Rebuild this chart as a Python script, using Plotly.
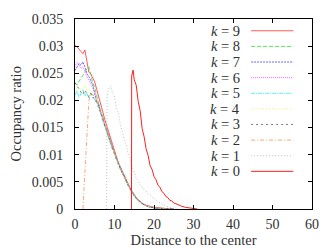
import plotly.graph_objects as go

# ---------------- data ----------------
X_BUNDLE = [0, 0.5, 1, 1.5, 2, 2.5, 3, 3.5, 4, 4.5,
            5, 5.5, 6, 6.5, 7, 7.5, 8, 8.5, 9, 9.5, 10, 10.5, 11, 11.5, 12, 12.5,
            13, 13.5, 14, 14.5, 15, 15.5, 16, 16.5, 17, 17.5, 18, 18.5, 19, 19.5, 20,
            21, 22, 23, 24, 25]

Y_K9 = [0.0302, 0.0299, 0.0295, 0.0290, 0.0286, 0.0293, 0.0271, 0.0252, 0.0249, 0.0241,
        0.0234, 0.0220, 0.0208, 0.0194, 0.0180, 0.0166, 0.0154, 0.0140, 0.0128, 0.0116, 0.0105, 0.0096,
        0.0085, 0.0077, 0.0068, 0.0061, 0.0052, 0.0046, 0.0038, 0.0032, 0.0026, 0.0021, 0.0017, 0.0013,
        0.0011, 0.0008, 0.0007, 0.0005, 0.0004, 0.0003, 0.0003, 0.0002, 0.0001, 0.00005, 0.00002, 0]
Y_K8 = [0.0232, 0.0228, 0.0235, 0.0240, 0.0246, 0.0252, 0.0258, 0.0262, 0.0248, 0.0232,
        0.0224, 0.0208, 0.0196, 0.0178, 0.0172, 0.0153, 0.0149, 0.0131, 0.0127, 0.0110, 0.0106, 0.0090,
        0.0087, 0.0072, 0.0069, 0.0057, 0.0053, 0.0042, 0.0038, 0.0030, 0.0026, 0.0019, 0.0017, 0.0012,
        0.0011, 0.0007, 0.0007, 0.0004, 0.0004, 0.0003, 0.0002, 0.0002, 0.0001, 0.00006, 0.00002, 0]
Y_K7 = [0.0255, 0.0262, 0.0268, 0.0265, 0.0271, 0.0262, 0.0250, 0.0244, 0.0236, 0.0229,
        0.0212, 0.0198, 0.0194, 0.0176, 0.0170, 0.0155, 0.0143, 0.0138, 0.0121, 0.0116, 0.0100, 0.0096,
        0.0081, 0.0078, 0.0064, 0.0061, 0.0049, 0.0046, 0.0035, 0.0032, 0.0024, 0.0021, 0.0015, 0.0014,
        0.0009, 0.0009, 0.0006, 0.0005, 0.0003, 0.0003, 0.0002, 0.0001, 0.0001, 0.00004, 0.00001, 0]
Y_K6 = [0.0262, 0.0270, 0.0266, 0.0259, 0.0262, 0.0251, 0.0244, 0.0238, 0.0231, 0.0222,
        0.0215, 0.0199, 0.0187, 0.0183, 0.0165, 0.0160, 0.0143, 0.0137, 0.0121, 0.0115, 0.0101, 0.0095,
        0.0082, 0.0076, 0.0065, 0.0060, 0.0050, 0.0045, 0.0036, 0.0032, 0.0024, 0.0021, 0.0015, 0.0013,
        0.0010, 0.0008, 0.0006, 0.0005, 0.0004, 0.0003, 0.0002, 0.0002, 0.0001, 0.00005, 0.00002, 0]
Y_K5 = [0.0210, 0.0218, 0.0205, 0.0212, 0.0220, 0.0208, 0.0214, 0.0204, 0.0213, 0.0207,
        0.0201, 0.0196, 0.0186, 0.0177, 0.0163, 0.0155, 0.0142, 0.0133, 0.0120, 0.0111, 0.0100, 0.0091,
        0.0082, 0.0073, 0.0066, 0.0058, 0.0050, 0.0043, 0.0037, 0.0030, 0.0025, 0.0020, 0.0016, 0.0012,
        0.0010, 0.0008, 0.0006, 0.0005, 0.0004, 0.0003, 0.0002, 0.0001, 0.0001, 0.00005, 0.00002, 0]
Y_K4 = [0.0215, 0.0222, 0.0226, 0.0218, 0.0224, 0.0229, 0.0217, 0.0222, 0.0214, 0.0216,
        0.0206, 0.0203, 0.0189, 0.0184, 0.0166, 0.0159, 0.0144, 0.0138, 0.0122, 0.0116, 0.0101, 0.0095,
        0.0083, 0.0077, 0.0066, 0.0060, 0.0050, 0.0045, 0.0036, 0.0032, 0.0024, 0.0021, 0.0015, 0.0014,
        0.0010, 0.0008, 0.0006, 0.0005, 0.0004, 0.0003, 0.0003, 0.0001, 0.0001, 0.00005, 0.00002, 0]
Y_K3 = [0.0233, 0.0226, 0.0220, 0.0215, 0.0211, 0.0219, 0.0212, 0.0207, 0.0213, 0.0205,
        0.0204, 0.0195, 0.0190, 0.0178, 0.0169, 0.0154, 0.0147, 0.0132, 0.0125, 0.0111, 0.0104, 0.0091,
        0.0085, 0.0073, 0.0068, 0.0058, 0.0052, 0.0043, 0.0038, 0.0030, 0.0026, 0.0019, 0.0017, 0.0012,
        0.0011, 0.0007, 0.0007, 0.0004, 0.0004, 0.0003, 0.0002, 0.0002, 0.0001, 0.00005, 0.00002, 0]

X_K2 = [2.0, 2.5, 3.0, 3.5, 4.0, 4.5,
        5, 5.5, 6, 6.5, 7, 7.5, 8, 8.5, 9, 9.5, 10, 10.5, 11, 11.5, 12, 12.5,
        13, 13.5, 14, 14.5, 15, 15.5, 16, 16.5, 17, 17.5, 18, 18.5, 19, 19.5, 20,
        21, 22, 23, 24, 25]
Y_K2 = [0, 0.0066, 0.0132, 0.0198, 0.0214, 0.0211,
        0.0207, 0.0200, 0.0193, 0.0179, 0.0170, 0.0156, 0.0147, 0.0134, 0.0126, 0.0112, 0.0104, 0.0092,
        0.0085, 0.0074, 0.0068, 0.0059, 0.0052, 0.0044, 0.0038, 0.0031, 0.0025, 0.0020, 0.0016, 0.0013,
        0.0010, 0.0008, 0.0006, 0.0005, 0.0004, 0.0003, 0.0003, 0.0002, 0.0001, 0.00005, 0.00002, 0]

X_K1 = [8.0, 8.1, 8.5, 9, 9.5, 10, 10.5, 11, 11.5, 12, 12.5, 13, 13.5, 14, 14.5, 15, 15.5,
        16, 16.5, 17, 17.5, 18, 18.5, 19, 19.5, 20, 20.5, 21, 22, 23, 24, 25, 26]
Y_K1 = [0, 0.0208, 0.0221, 0.0227, 0.0214, 0.0208, 0.0186, 0.0176, 0.0154, 0.0143, 0.0125, 0.0118,
        0.0099, 0.0092, 0.0076, 0.0068, 0.0056, 0.0052, 0.0044, 0.0041, 0.0035, 0.0033, 0.0027, 0.0026,
        0.0021, 0.0020, 0.0016, 0.0014, 0.0009, 0.0005, 0.0003, 0.0001, 0]

X_K0 = [14.3, 14.35, 14.7, 15, 15.5, 16, 16.5, 17, 17.5, 18, 18.5, 19, 19.5, 20, 20.5, 21, 21.5,
        22, 22.5, 23, 23.5, 24, 24.5, 25, 25.5, 26, 27, 28, 29, 30, 31]
Y_K0 = [0, 0.0245, 0.0256, 0.0238, 0.0228, 0.0198, 0.0181, 0.0148, 0.0133, 0.0111, 0.0099, 0.0080,
        0.0073, 0.0060, 0.0054, 0.0044, 0.0040, 0.0032, 0.0029, 0.0023, 0.0021, 0.0016, 0.0015, 0.0011,
        0.0010, 0.0008, 0.0005, 0.0003, 0.0002, 0.0001, 0]

X_TICKS = [0, 10, 20, 30, 40, 50, 60]
Y_TICKS = [0, 0.005, 0.01, 0.015, 0.02, 0.025, 0.03, 0.035]
Y_TICK_TEXT = ["0", "0.005", "0.01", "0.015", "0.02", "0.025", "0.03", "0.035"]

LABELS = ["k = 9", "k = 8", "k = 7", "k = 6", "k = 5", "k = 4", "k = 3", "k = 2", "k = 1", "k = 0"]
SERIES_X = [X_BUNDLE, X_BUNDLE, X_BUNDLE, X_BUNDLE, X_BUNDLE, X_BUNDLE, X_BUNDLE, X_K2, X_K1, X_K0]
SERIES_Y = [Y_K9, Y_K8, Y_K7, Y_K6, Y_K5, Y_K4, Y_K3, Y_K2, Y_K1, Y_K0]
COLORS = ["#ff3030", "#30e030", "#4040ff", "#ff40ff", "#30e8e8", "#f0f030", "#404040",
          "#ff9050", "#b0b0b0", "#ff2020"]
DASHES = ["solid", "4px,2px", "2px,1px", "1px,1px", "4px,1px,1px,1px", "1px,2px",
          "2px,3px", "4px,2px,1px,2px", "1px,2px", "solid"]
WIDTHS = [0.8, 0.8, 0.8, 0.8, 0.8, 0.8, 0.7, 0.8, 0.8, 1.0]

FONT = "Liberation Serif"
TXT = "#303030"

fig = go.Figure()
for i, (xs, ys) in enumerate(zip(SERIES_X, SERIES_Y)):
    fig.add_trace(go.Scatter(x=xs, y=ys, mode="lines", name=LABELS[i],
                             line=dict(color=COLORS[i], width=WIDTHS[i], dash=DASHES[i]),
                             showlegend=False))

# manual legend: text on the left, line sample on the right (gnuplot style)
shapes = []
annotations = []
top_y = 0.938
step = 0.0822
for i, lab in enumerate(LABELS):
    yy = top_y - i * step
    num = lab.split("=")[1].strip()
    annotations.append(dict(xref="paper", yref="paper", x=0.703, y=yy,
                            text="<i>k</i> = " + num, showarrow=False,
                            xanchor="right", yanchor="middle",
                            font=dict(family=FONT, size=14.5, color=TXT)))
    shapes.append(dict(type="line", xref="paper", yref="paper",
                       x0=0.743, x1=0.921, y0=yy, y1=yy,
                       line=dict(color=COLORS[i], width=WIDTHS[i], dash=DASHES[i])))

# y-axis title placed like the reference
annotations.append(dict(xref="paper", yref="paper", x=-0.251, y=0.5,
                        text="Occupancy ratio", textangle=-90, showarrow=False,
                        xanchor="center", yanchor="middle",
                        font=dict(family=FONT, size=14.5, color=TXT)))

axis_common = dict(showline=True, linecolor="black", linewidth=1, mirror="ticks",
                   ticks="inside", ticklen=4, tickcolor="black", showgrid=False,
                   zeroline=False, automargin=False,
                   tickfont=dict(family=FONT, size=14, color=TXT))

fig.update_layout(
    width=327, height=248,
    margin=dict(l=75, r=15, t=19, b=39),
    paper_bgcolor="white", plot_bgcolor="white",
    shapes=shapes, annotations=annotations,
    xaxis=dict(range=[0, 60], tickvals=X_TICKS, ticklabelstandoff=2,
               title=dict(text="Distance to the center",
                          font=dict(family=FONT, size=14.5, color=TXT)),
               **axis_common),
    yaxis=dict(range=[0, 0.035], tickvals=Y_TICKS, ticktext=Y_TICK_TEXT,
               ticklabelstandoff=8, **axis_common),
)

fig.write_html("out.html", config={"displayModeBar": False},
               post_script="document.body.style.margin='0';document.body.style.overflow='hidden';")
